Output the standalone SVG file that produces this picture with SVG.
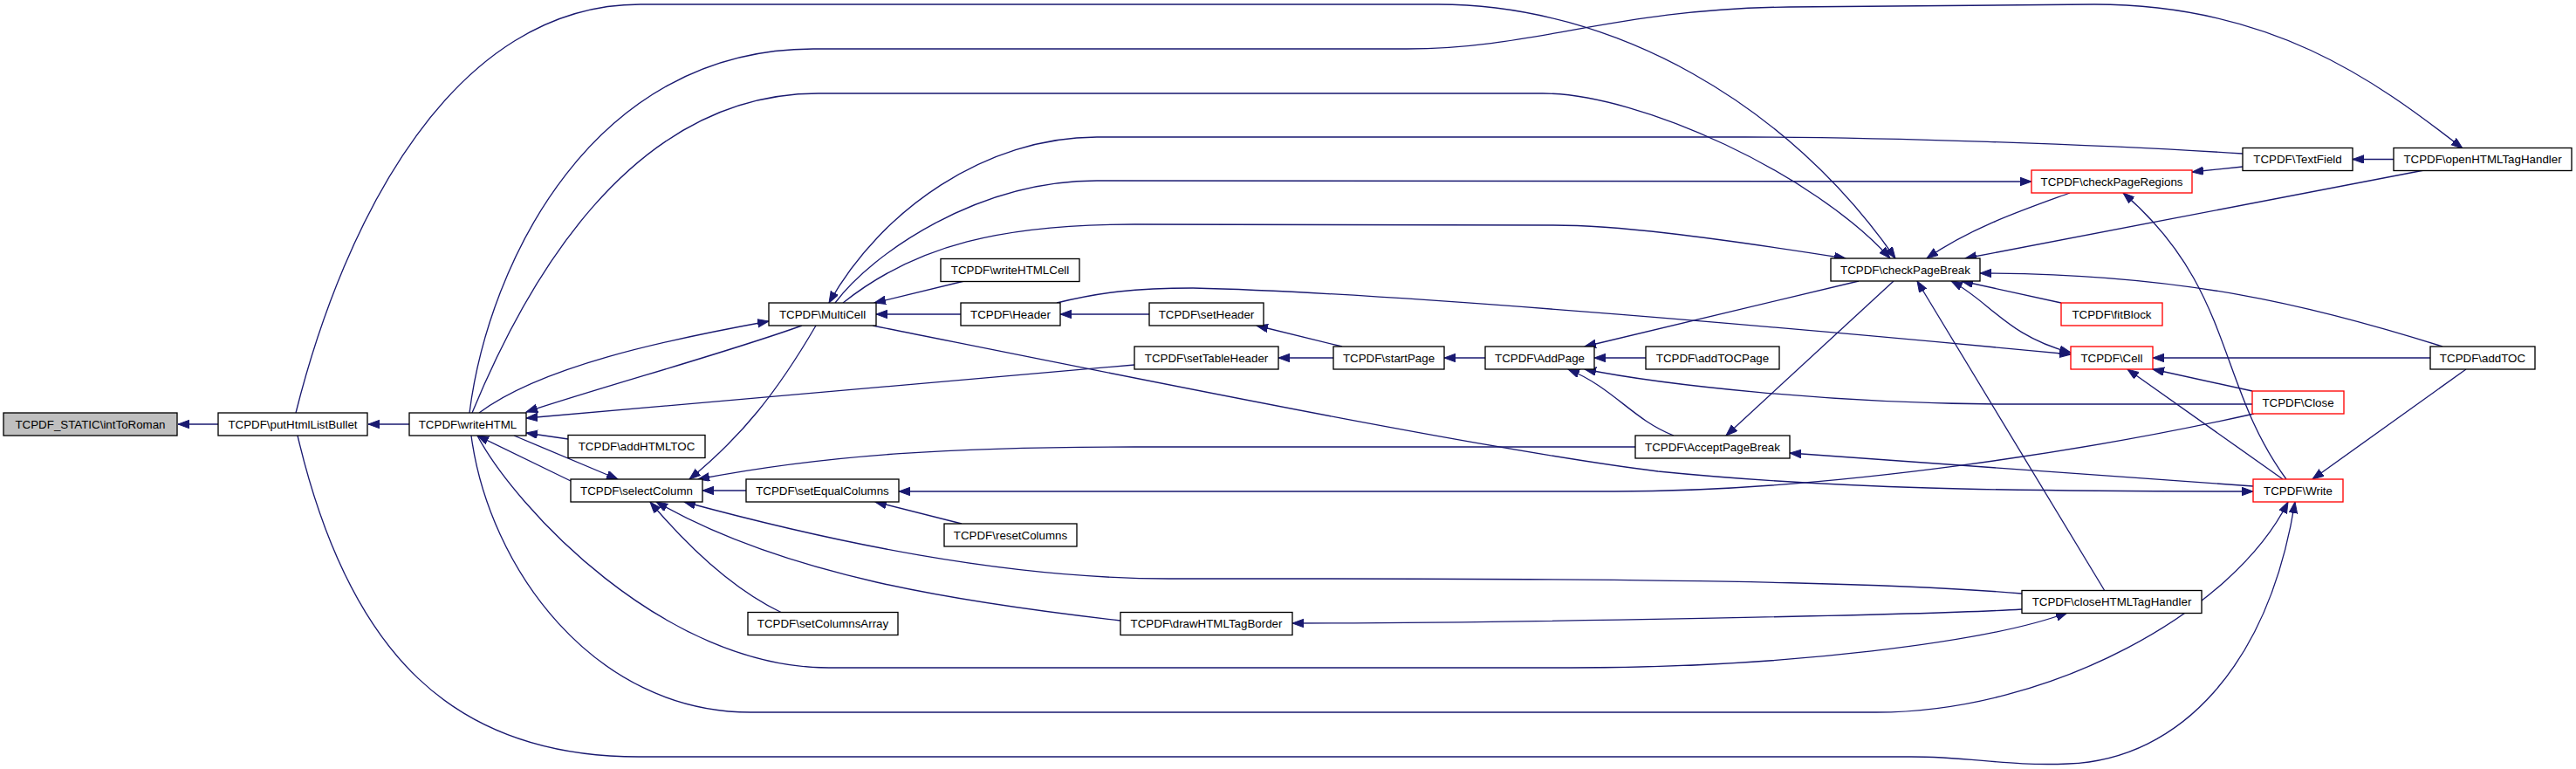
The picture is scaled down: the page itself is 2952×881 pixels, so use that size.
<svg xmlns="http://www.w3.org/2000/svg" width="2952" height="881" viewBox="0 0 2952 881">
<defs>
<style>
.n rect{fill:#fff;stroke:#000;stroke-width:1.33}
.n.r rect{stroke:#ff0000}
.n.root rect{fill:#bfbfbf}
.n text{font-family:"Liberation Sans",Arial,sans-serif;font-size:13.33px;text-anchor:middle;fill:#000}
#edges path{fill:none;stroke:#191970;stroke-width:1.33;marker-end:url(#ah)}
</style>
<marker id="ah" markerUnits="userSpaceOnUse" markerWidth="15" markerHeight="11" refX="13" refY="4.75" orient="auto-start-reverse">
<path d="M0,0 L13,4.75 L0,9.5 z" fill="#191970" stroke="#191970" stroke-width="1"/>
</marker>
</defs>
<rect width="2952" height="881" fill="#fff"/>
<g id="edges">
<path d="M250,486 L204,486"/>
<path d="M469,486 L422,486"/>
<path d="M339,473 C395,250 520,5 734,5 L1648,5 C1850,5 2050,120 2172,296"/>
<path d="M538,473 C560,300 680,56 932,56 L1612,56 C1760,56 1850,10 2050,8 L2400,5 C2600,5 2720,90 2822,170"/>
<path d="M541,473 C600,330 720,107 938,107 L1768,107 C1880,107 2080,200 2166,296"/>
<path d="M2570,176 C2400,165 2150,157 2000,157 L1257,157 C1130,157 1010,240 950,347"/>
<path d="M957,347 C1000,290 1120,207 1257,207 L2328,208"/>
<path d="M966,347 C1050,280 1150,257 1300,257 L1780,258 C1850,258 1950,270 2115,296"/>
<path d="M549,473 C620,420 760,390 881,368"/>
<path d="M919,373 C830,405 700,440 603,472"/>
<path d="M1300,418 L603,479"/>
<path d="M651,503 L603,496"/>
<path d="M589,499 L708,549"/>
<path d="M654,551 L547,499"/>
<path d="M935,373 C890,450 850,500 790,549"/>
<path d="M1874,512 L1300,512 C1100,512 950,520 800,549"/>
<path d="M1101,360 L1004,360"/>
<path d="M1105,322 L1002,347"/>
<path d="M1317,360 L1215,360"/>
<path d="M1211,347 C1260,335 1300,330 1367,330 C1600,335 2100,380 2373,406"/>
<path d="M1528,410 L1465,410"/>
<path d="M1538,397 L1440,373"/>
<path d="M1702,410 L1655,410"/>
<path d="M1886,410 L1827,410"/>
<path d="M2130,322 L1816,397"/>
<path d="M2581,463 L2300,463 C2100,463 1900,440 1816,423"/>
<path d="M1918,499 C1870,480 1850,445 1797,423"/>
<path d="M2170,322 L1978,499"/>
<path d="M2412,677 L2197,322"/>
<path d="M2799,397 C2650,350 2500,313 2269,313"/>
<path d="M2362,347 L2248,322"/>
<path d="M2236,322 C2280,345 2300,385 2373,404" style="marker-start:url(#ah)"/>
<path d="M2785,410 L2467,410"/>
<path d="M2581,448 L2467,423"/>
<path d="M2616,549 L2438,423"/>
<path d="M2826,423 L2650,549"/>
<path d="M2620,549 C2540,440 2560,330 2433,221"/>
<path d="M2743,182.5 L2696,182.5"/>
<path d="M2570,191 L2512,197"/>
<path d="M2778,195 L2252,296"/>
<path d="M2372,221 C2320,240 2260,260 2208,296"/>
<path d="M1000,373 C1300,433 1700,515 1900,540 C2100,560 2300,563 2582,563"/>
<path d="M2582,557 C2400,544 2200,530 2051,519"/>
<path d="M2583,474 C2400,515 2100,563 1850,563 L1030,563"/>
<path d="M1102,600 L1003,575"/>
<path d="M855,562 L805,562"/>
<path d="M2317,680 C2200,670 2000,663 1500,663 L1340,663 C1150,663 950,620 784,575"/>
<path d="M2317,698 C2200,705 1700,714 1481,714"/>
<path d="M1284,711 C1100,690 900,660 752,575"/>
<path d="M896,702 C850,680 800,640 745,575"/>
<path d="M547,499 C590,580 760,765 950,765 L1800,765 C2050,765 2280,735 2369,702"/>
<path d="M540,499 C560,650 680,816 860,816 L2150,816 C2350,816 2560,700 2622,575"/>
<path d="M341,499 C400,750 520,867 732,867 L2190,867 C2260,867 2300,878 2370,875 C2500,870 2600,760 2630,575"/>
</g>
<g id="intToRoman" class="n root"><rect x="4" y="473" width="199" height="26"/><text x="103.5" y="490.7">TCPDF_STATIC\intToRoman</text></g>
<g id="putHtmlListBullet" class="n"><rect x="250" y="473" width="171" height="26"/><text x="335.5" y="490.7">TCPDF\putHtmlListBullet</text></g>
<g id="writeHTML" class="n"><rect x="469" y="473" width="134" height="26"/><text x="536" y="490.7">TCPDF\writeHTML</text></g>
<g id="MultiCell" class="n"><rect x="881" y="347" width="123" height="26"/><text x="942.5" y="364.7">TCPDF\MultiCell</text></g>
<g id="addHTMLTOC" class="n"><rect x="651" y="498.5" width="157" height="26"/><text x="729.5" y="516.2">TCPDF\addHTMLTOC</text></g>
<g id="selectColumn" class="n"><rect x="654" y="549" width="151" height="26"/><text x="729.5" y="566.7">TCPDF\selectColumn</text></g>
<g id="writeHTMLCell" class="n"><rect x="1078" y="296.5" width="159" height="26"/><text x="1157.5" y="314.2">TCPDF\writeHTMLCell</text></g>
<g id="Header" class="n"><rect x="1101" y="347" width="114" height="26"/><text x="1158" y="364.7">TCPDF\Header</text></g>
<g id="setEqualColumns" class="n"><rect x="855" y="549" width="175" height="26"/><text x="942.5" y="566.7">TCPDF\setEqualColumns</text></g>
<g id="resetColumns" class="n"><rect x="1082" y="600" width="152" height="26"/><text x="1158" y="617.7">TCPDF\resetColumns</text></g>
<g id="setColumnsArray" class="n"><rect x="857" y="701.5" width="172" height="26"/><text x="943" y="719.2">TCPDF\setColumnsArray</text></g>
<g id="drawHTMLTagBorder" class="n"><rect x="1284" y="701.5" width="197" height="26"/><text x="1382.5" y="719.2">TCPDF\drawHTMLTagBorder</text></g>
<g id="setHeader" class="n"><rect x="1317" y="347" width="131" height="26"/><text x="1382.5" y="364.7">TCPDF\setHeader</text></g>
<g id="setTableHeader" class="n"><rect x="1300" y="397" width="165" height="26"/><text x="1382.5" y="414.7">TCPDF\setTableHeader</text></g>
<g id="startPage" class="n"><rect x="1528" y="397" width="127" height="26"/><text x="1591.5" y="414.7">TCPDF\startPage</text></g>
<g id="AddPage" class="n"><rect x="1702" y="397" width="125" height="26"/><text x="1764.5" y="414.7">TCPDF\AddPage</text></g>
<g id="addTOCPage" class="n"><rect x="1886" y="397" width="153" height="26"/><text x="1962.5" y="414.7">TCPDF\addTOCPage</text></g>
<g id="AcceptPageBreak" class="n"><rect x="1874" y="499" width="177" height="26"/><text x="1962.5" y="516.7">TCPDF\AcceptPageBreak</text></g>
<g id="checkPageBreak" class="n"><rect x="2098" y="296" width="171" height="26"/><text x="2183.5" y="313.7">TCPDF\checkPageBreak</text></g>
<g id="checkPageRegions" class="n r"><rect x="2328" y="195" width="184" height="26"/><text x="2420" y="212.7">TCPDF\checkPageRegions</text></g>
<g id="TextField" class="n"><rect x="2570" y="169.5" width="126" height="26"/><text x="2633" y="187.2">TCPDF\TextField</text></g>
<g id="openHTMLTagHandler" class="n"><rect x="2743" y="169.5" width="204" height="26"/><text x="2845" y="187.2">TCPDF\openHTMLTagHandler</text></g>
<g id="fitBlock" class="n r"><rect x="2362" y="347" width="116" height="26"/><text x="2420" y="364.7">TCPDF\fitBlock</text></g>
<g id="Cell" class="n r"><rect x="2373" y="397" width="94" height="26"/><text x="2420" y="414.7">TCPDF\Cell</text></g>
<g id="addTOC" class="n"><rect x="2785" y="397" width="120" height="26"/><text x="2845" y="414.7">TCPDF\addTOC</text></g>
<g id="Close" class="n r"><rect x="2581" y="448" width="105" height="26"/><text x="2633.5" y="465.7">TCPDF\Close</text></g>
<g id="Write" class="n r"><rect x="2582" y="549" width="103" height="26"/><text x="2633.5" y="566.7">TCPDF\Write</text></g>
<g id="closeHTMLTagHandler" class="n"><rect x="2317" y="676.5" width="206" height="26"/><text x="2420" y="694.2">TCPDF\closeHTMLTagHandler</text></g>
</svg>
